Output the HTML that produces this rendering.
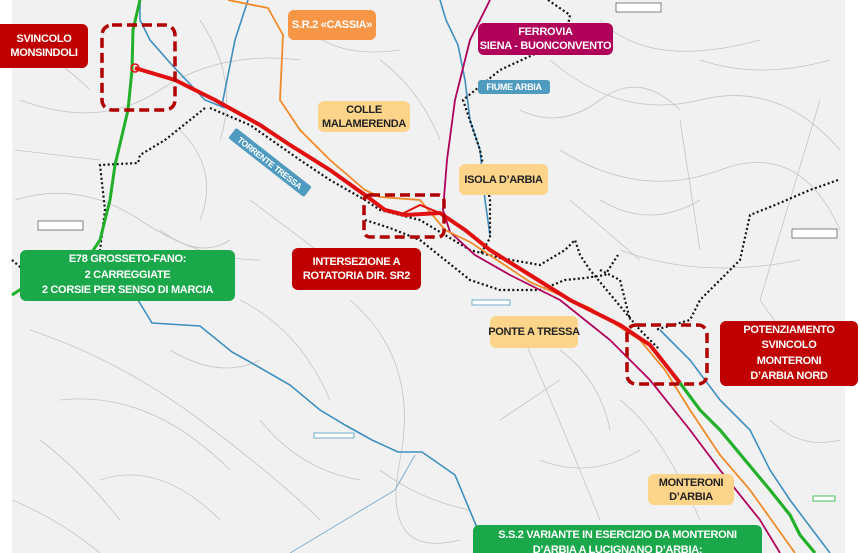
<!DOCTYPE html>
<html><head><meta charset="utf-8"><style>
html,body{margin:0;padding:0;background:#fff}
.w{position:relative;width:860px;height:553px;overflow:hidden;font-family:"Liberation Sans",sans-serif}
.l{position:absolute;border-radius:6px;color:#fff;font-weight:bold;font-size:11px;letter-spacing:-0.3px;text-align:center;line-height:14px;display:flex;align-items:center;justify-content:center;white-space:nowrap}
.r{background:#c00000}.o{background:#f79646}.y{background:#fcd58a;color:#222}.g{background:#1aa84a}.m{background:#b0005a}.b{background:#4f9bc0}
</style></head><body><div class="w">
<svg width="860" height="553" style="position:absolute;left:0;top:0">
<rect x="12" y="0" width="833" height="553" fill="#f1f1f1"/>
<g stroke="#c4c4c4" stroke-width="0.8" fill="none">
<path d="M20 100 Q100 130 160 90 T300 60"/><path d="M15 200 Q80 180 140 220 T260 260"/>
<path d="M30 330 Q120 360 200 420 T320 520"/><path d="M60 400 Q150 390 230 470"/>
<path d="M200 20 Q240 80 220 140"/><path d="M550 60 Q620 120 700 100 T840 150"/>
<path d="M560 150 Q640 200 720 170 T840 230"/><path d="M600 20 Q650 70 760 40"/>
<path d="M520 330 Q560 420 600 520"/><path d="M350 300 Q420 360 400 460 T460 540"/>
<path d="M620 250 Q700 280 800 260"/><path d="M760 300 Q800 360 840 380"/>
<path d="M100 480 Q160 460 220 520"/><path d="M240 300 Q300 330 330 400"/>
<path d="M680 120 L700 250"/><path d="M820 100 L760 300"/><path d="M500 420 L560 380"/>
<path d="M15 150 L100 160"/><path d="M250 200 L330 260"/><path d="M570 200 L640 260"/>
<path d="M20 40 Q60 60 90 90"/><path d="M180 130 Q220 170 200 220"/><path d="M300 20 Q330 60 400 50"/>
<path d="M380 60 Q420 90 440 140"/><path d="M520 110 Q560 130 600 100 T680 110"/>
<path d="M600 200 Q650 230 700 200"/><path d="M40 440 Q80 470 120 520"/><path d="M170 350 Q220 380 260 360"/>
<path d="M260 420 Q300 470 360 480"/><path d="M540 460 Q590 480 640 450"/><path d="M620 400 Q660 430 700 520"/>
<path d="M770 420 Q800 450 840 440"/><path d="M700 60 Q760 80 830 60"/><path d="M380 470 Q420 500 470 510"/>
<path d="M12 500 Q60 520 100 553"/><path d="M160 230 Q200 260 230 240"/><path d="M560 350 Q600 380 610 430"/>
</g>
<g fill="none" stroke="#3e8fbf" stroke-width="1.6">
<path d="M140 0 L140 20 150 40 172 65 205 100 225 108"/>
<path d="M248 0 L235 40 222 105"/>
<path d="M440 0 L446 20 458 45 465 80 470 120 480 150 485 200 490 235"/>
<path d="M138 300 L152 323 200 326 232 352 250 362 290 385 320 410 345 425 372 440 398 452 422 452 455 475 478 530 480 553"/>
<path d="M415 455 L395 490 345 520 290 553" stroke="#7fb0cf" stroke-width="1"/>
<path d="M660 330 L690 360 720 400 750 430 770 470 790 500 805 520 830 553"/>
</g>
<g fill="none" stroke="#111" stroke-width="2.2" stroke-dasharray="2 2.5">
<path d="M548 0 L570 15 565 40 500 70 463 100 480 150 490 200 490 238 480 255"/>
<path d="M210 108 L250 125 300 160 330 180 365 200 380 210 420 220 445 235 470 250 500 258 540 265 565 250 575 240 580 255 590 270 615 300 640 330 660 350"/>
<path d="M205 108 L165 140 140 155 138 163 100 165 105 210 100 250 95 290"/>
<path d="M365 220 L390 228 420 240 445 260 470 280 500 290 540 290 565 280 585 278 605 275 618 255"/>
<path d="M600 270 L620 280 630 320"/>
<path d="M838 180 L810 190 775 205 750 215 740 260 720 280 700 300 690 320 655 330"/>
<path d="M12 260 L35 280"/>
</g>
<path d="M490 0 L470 40 455 100 447 160 443 210 450 232 475 255 510 275 560 300 610 340 650 380 690 430 720 470 760 520 780 553" fill="none" stroke="#b0005a" stroke-width="1.8"/>
<path d="M228 0 L268 8 283 35 280 100 300 130 330 160 365 190 380 197 420 200 445 230 470 242 530 282 590 308 640 340 665 370 690 410 720 455 750 490 775 525 795 553" fill="none" stroke="#f08a2a" stroke-width="1.8"/>
<path d="M140 0 L133 30 132 70 128 110 115 165 110 200 100 240 90 255 35 280 12 295" fill="none" stroke="#22b02a" stroke-width="3"/>
<path d="M680 383 L700 410 720 430 745 460 770 490 790 515 800 535 815 553" fill="none" stroke="#22b02a" stroke-width="3.2"/>
<path d="M135 68 L175 80 215 100 260 125 290 145 330 170 365 195 385 210 405 215 440 213 465 230 490 250 530 275 570 300 620 325 650 345 680 383" fill="none" stroke="#e01010" stroke-width="4"/>
<path d="M400 215 L420 205 440 213" fill="none" stroke="#e01010" stroke-width="2"/>
<circle cx="135" cy="68" r="4" fill="none" stroke="#e01010" stroke-width="1.5"/>
<g fill="none" stroke="#b00000" stroke-width="3.5" stroke-dasharray="10 5">
<rect x="102" y="25" width="73" height="85" rx="10"/>
<rect x="364" y="195" width="80" height="42" rx="6"/>
<rect x="627" y="325" width="80" height="59" rx="9"/>
</g>
<g fill="#fff" stroke="#333" stroke-width="0.6">
<rect x="38" y="221" width="45" height="9"/><rect x="616" y="3" width="45" height="9"/><rect x="792" y="229" width="45" height="9"/>
</g>
<rect x="314" y="433" width="40" height="5" fill="#fff" stroke="#4f9bc0" stroke-width="0.8"/>
<rect x="472" y="300" width="38" height="5" fill="#fff" stroke="#4f9bc0" stroke-width="0.8"/>
<rect x="813" y="496" width="22" height="5" fill="#fff" stroke="#22b02a" stroke-width="0.8"/>
</svg>
<div class="l r" style="left:0;top:24px;width:88px;height:44px;border-radius:0 6px 6px 0">SVINCOLO<br>MONSINDOLI</div>
<div class="l o" style="left:288px;top:10px;width:88px;height:30px">S.R.2 «CASSIA»</div>
<div class="l m" style="left:478px;top:23px;width:135px;height:32px">FERROVIA<br>SIENA - BUONCONVENTO</div>
<div class="l b" style="left:478px;top:80px;width:72px;height:14px;border-radius:3px;font-size:9px">FIUME ARBIA</div>
<div class="l y" style="left:318px;top:101px;width:92px;height:31px">COLLE<br>MALAMERENDA</div>
<div class="l b" style="left:222px;top:156px;width:96px;height:13px;border-radius:2px;font-size:8.5px;transform:rotate(38deg)">TORRENTE TRESSA</div>
<div class="l y" style="left:459px;top:164px;width:89px;height:31px">ISOLA D’ARBIA</div>
<div class="l g" style="left:20px;top:250px;width:215px;height:51px;line-height:15.5px">E78 GROSSETO-FANO:<br>2 CARREGGIATE<br>2 CORSIE PER SENSO DI MARCIA</div>
<div class="l r" style="left:292px;top:248px;width:129px;height:42px">INTERSEZIONE A<br>ROTATORIA DIR. SR2</div>
<div class="l y" style="left:490px;top:316px;width:88px;height:32px">PONTE A TRESSA</div>
<div class="l r" style="left:720px;top:321px;width:138px;height:65px;line-height:15.5px">POTENZIAMENTO<br>SVINCOLO<br>MONTERONI<br>D’ARBIA NORD</div>
<div class="l y" style="left:648px;top:474px;width:86px;height:31px">MONTERONI<br>D’ARBIA</div>
<div class="l g" style="left:473px;top:525px;width:289px;height:40px;align-items:flex-start;padding-top:3px;box-sizing:border-box;line-height:15px">S.S.2 VARIANTE IN ESERCIZIO DA MONTERONI<br>D’ARBIA A LUCIGNANO D’ARBIA:</div>
</div></body></html>
